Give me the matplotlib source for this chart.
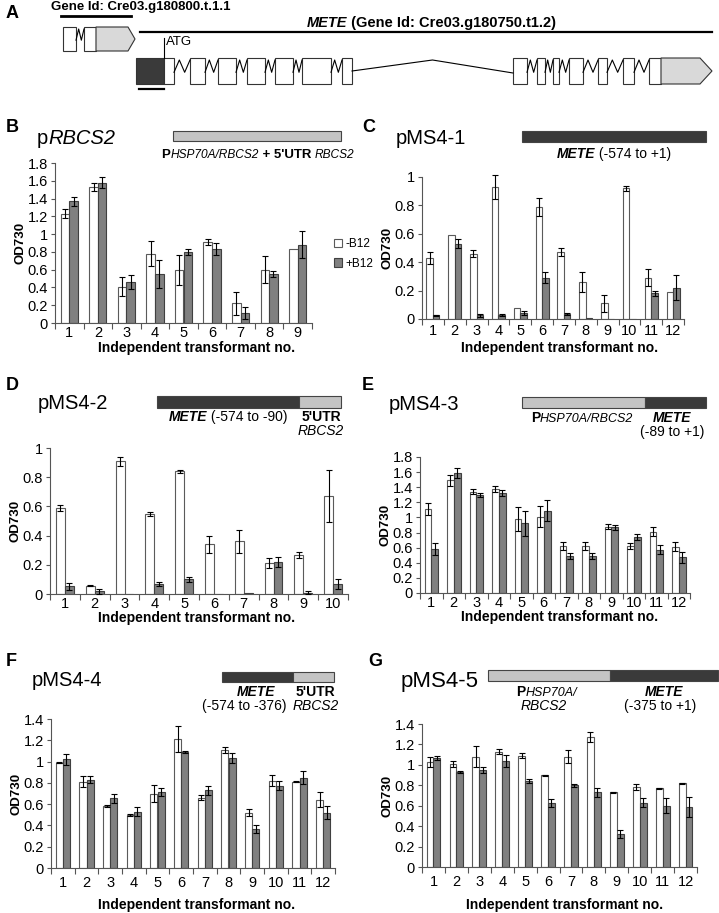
import numpy as np
import matplotlib.pyplot as plt
from matplotlib.patches import Rectangle, Polygon
from matplotlib.offsetbox import TextArea, HPacker, AnnotationBbox

plt.rcParams['font.family'] = ['Liberation Sans', 'DejaVu Sans']

W, H = 719, 913

# ---------------- panel A: gene models (positions along the map) ----------------
small_exons = [(63, 76), (84, 96)]
small_utr = (96, 128)
small_tip = 135
mete_region = (136, 164)          # dark box = promoter fragment
mete_exons = [(164, 174), (190, 205), (218, 236), (247, 265), (275, 293),
              (302, 331), (342, 352), (513, 527), (537, 545), (553, 559),
              (569, 583), (598, 607), (623, 634), (649, 661)]
mete_utr = (661, 700)
mete_tip = 712

# ---------------- bar data: (-B12 white, +B12 grey) ----------------
b_minus = [1.23, 1.53, 0.41, 0.78, 0.60, 0.91, 0.22, 0.60, 0.83]
b_minus_err = [0.05, 0.05, 0.11, 0.14, 0.17, 0.03, 0.13, 0.15, 0.0]
b_plus = [1.37, 1.58, 0.46, 0.55, 0.80, 0.83, 0.11, 0.55, 0.88]
b_plus_err = [0.05, 0.06, 0.08, 0.16, 0.03, 0.07, 0.07, 0.03, 0.15]

c_minus = [0.43, 0.59, 0.46, 0.93, 0.08, 0.79, 0.47, 0.26, 0.11, 0.92, 0.29, 0.19]
c_minus_err = [0.045, 0.0, 0.025, 0.085, 0.0, 0.065, 0.027, 0.072, 0.06, 0.02, 0.06, 0.0]
c_plus = [0.025, 0.53, 0.025, 0.03, 0.04, 0.29, 0.035, 0.004, 0.003, 0.003, 0.18, 0.22]
c_plus_err = [0.005, 0.032, 0.012, 0.008, 0.015, 0.04, 0.008, 0.0, 0.0, 0.0, 0.02, 0.087]

d_minus = [0.59, 0.057, 0.91, 0.55, 0.84, 0.34, 0.36, 0.21, 0.265, 0.67]
d_minus_err = [0.02, 0.005, 0.03, 0.015, 0.01, 0.06, 0.08, 0.035, 0.02, 0.18]
d_plus = [0.053, 0.018, 0.003, 0.07, 0.10, 0.0, 0.008, 0.217, 0.01, 0.068]
d_plus_err = [0.025, 0.015, 0.0, 0.012, 0.015, 0.0, 0.0, 0.035, 0.01, 0.035]

e_minus = [1.11, 1.49, 1.34, 1.38, 0.98, 1.01, 0.62, 0.62, 0.88, 0.62, 0.81, 0.61]
e_minus_err = [0.08, 0.07, 0.03, 0.04, 0.16, 0.14, 0.05, 0.05, 0.035, 0.04, 0.06, 0.06]
e_plus = [0.58, 1.59, 1.30, 1.32, 0.92, 1.09, 0.49, 0.49, 0.87, 0.74, 0.57, 0.47]
e_plus_err = [0.08, 0.07, 0.03, 0.04, 0.16, 0.14, 0.045, 0.045, 0.03, 0.045, 0.06, 0.07]

f_minus = [0.99, 0.81, 0.58, 0.50, 0.70, 1.21, 0.66, 1.11, 0.52, 0.82, 0.81, 0.64]
f_minus_err = [0.005, 0.05, 0.01, 0.01, 0.08, 0.12, 0.025, 0.025, 0.03, 0.05, 0.005, 0.07]
f_plus = [1.02, 0.83, 0.655, 0.53, 0.715, 1.09, 0.73, 1.035, 0.365, 0.775, 0.85, 0.52]
f_plus_err = [0.05, 0.03, 0.04, 0.04, 0.04, 0.01, 0.04, 0.05, 0.04, 0.04, 0.06, 0.06]

g_minus = [1.03, 1.01, 1.08, 1.13, 1.09, 0.90, 1.08, 1.27, 0.73, 0.78, 0.77, 0.82]
g_minus_err = [0.05, 0.03, 0.10, 0.025, 0.025, 0.005, 0.065, 0.05, 0.005, 0.03, 0.005, 0.005]
g_plus = [1.07, 0.93, 0.95, 1.04, 0.845, 0.63, 0.80, 0.73, 0.32, 0.63, 0.60, 0.59]
g_plus_err = [0.02, 0.005, 0.03, 0.06, 0.02, 0.04, 0.015, 0.04, 0.04, 0.045, 0.075, 0.10]

DARK = '#3a3a3a'
LIGHT = '#c4c4c4'
GREY_BAR = '#808080'
XLABEL = 'Independent transformant no.'

fig = plt.figure(figsize=(W / 100, H / 100), dpi=100)


def axes_px(x0, x1, ytop, ybot):
    return fig.add_axes([x0 / W, 1 - ybot / H, (x1 - x0) / W, (ybot - ytop) / H])


def text_px(x, y, s, **kw):
    fig.text(x / W, 1 - y / H, s, **kw)


def rich(x, y, parts, size=10, ha='center'):
    # mixed bold / italic label built from pieces
    kids = []
    for s, style in parts:
        props = dict(size=size, color='black')
        if 'b' in style:
            props['weight'] = 'bold'
        if 'i' in style:
            props['style'] = 'italic'
        if 's' in style:
            props['size'] = size * 0.9
        kids.append(TextArea(s, textprops=props))
    box = HPacker(children=kids, align='baseline', pad=0, sep=0)
    al = {'left': 0, 'center': 0.5, 'right': 1}[ha]
    ab = AnnotationBbox(box, (x / W, 1 - y / H), xycoords='figure fraction',
                        frameon=False, box_alignment=(al, 0.5), pad=0)
    fig.add_artist(ab)


def construct_bar(x0, x1, y0, y1, split=None, left=DARK, right=LIGHT):
    ax = axes_px(0, W, 0, H)
    ax.set_xlim(0, W)
    ax.set_ylim(H, 0)
    ax.axis('off')
    ax.patch.set_alpha(0)
    if split is None:
        ax.add_patch(Rectangle((x0, y0), x1 - x0, y1 - y0, fc=left, ec='#444444', lw=0.8))
    else:
        ax.add_patch(Rectangle((x0, y0), split - x0, y1 - y0, fc=left, ec='#444444', lw=0.8))
        ax.add_patch(Rectangle((split, y0), x1 - split, y1 - y0, fc=right, ec='#444444', lw=0.8))


def bar_panel(rect, minus, minus_err, plus, plus_err, ymax, xlab_pos, xpad):
    ax = axes_px(*rect)
    n = len(minus)
    x = np.arange(1, n + 1)
    w = 0.3
    ax.bar(x - w / 2, minus, w, color='white', edgecolor='#5a5a5a', linewidth=0.8, zorder=2)
    ax.bar(x + w / 2, plus, w, color=GREY_BAR, edgecolor='#404040', linewidth=0.8, zorder=2)
    for xs, vals, errs in ((x - w / 2, minus, minus_err), (x + w / 2, plus, plus_err)):
        vals = np.array(vals)
        errs = np.array(errs)
        m = errs > 0
        eb = ax.errorbar(xs[m], vals[m], yerr=errs[m], fmt='none', ecolor='black',
                         elinewidth=0.8, capsize=2.2, capthick=0.8, zorder=3)
        for art in list(eb.lines[1]) + list(eb.lines[2]):
            art.set_clip_on(False)
    ax.set_xlim(0.5, n + 0.5)
    ax.set_ylim(0, ymax)
    ax.set_xticks(x)
    ax.set_xticklabels([str(i) for i in x], fontsize=10.5)
    ax.set_xticks(np.arange(0.5, n + 1), minor=True)
    ax.tick_params(axis='x', which='major', length=0, pad=xpad)
    ax.tick_params(axis='x', which='minor', length=4, direction='out', color='#555555', width=0.8)
    yt = np.arange(0, ymax + 0.01, 0.2)
    ax.set_yticks(yt)
    ax.set_yticklabels([f"{round(t, 1):g}" for t in yt], fontsize=10.5)
    ax.tick_params(axis='y', length=3, direction='out', pad=2, color='#555555', width=0.8)
    for s in ('top', 'right'):
        ax.spines[s].set_visible(False)
    for s in ('left', 'bottom'):
        ax.spines[s].set_color('#555555')
        ax.spines[s].set_linewidth(0.8)
    ax.set_ylabel('OD730', fontsize=9.5, fontweight='bold', labelpad=1)
    text_px(xlab_pos[0], xlab_pos[1], XLABEL, fontsize=10, fontweight='bold',
            ha='center', va='center')
    return ax


# ---------------- panel A ----------------
axA = axes_px(0, W, 0, 125)
axA.set_xlim(0, W)
axA.set_ylim(125, 0)
axA.axis('off')


def intron(ax, x0, x1, ytop, ybot):
    w = x1 - x0
    ym = ytop + (ybot - ytop) * 0.55
    ax.plot([x0, x0 + w / 3, x0 + 2 * w / 3, x1], [ym, ytop + 2, ym, ytop + 2],
            color='black', lw=0.8)


def gene(ax, exons, utr, tip, ytop, ybot, dark=None):
    boxes = ([dark] if dark else []) + exons
    for i, (a, b) in enumerate(boxes):
        fc = DARK if (dark and i == 0) else 'white'
        ax.add_patch(Rectangle((a, ytop), b - a, ybot - ytop, fc=fc, ec='#333333', lw=0.8))
    for (a0, b0), (a1, b1) in zip(boxes[:-1], boxes[1:]):
        if a1 - b0 > 60:
            ax.plot([b0, (b0 + a1) / 2, a1], [ytop + 13, ytop + 2, ytop + 15], color='black', lw=0.8)
        elif a1 > b0:
            intron(ax, b0, a1, ytop, ybot)
    ax.add_patch(Polygon([(utr[0], ytop), (utr[1], ytop), (tip, (ytop + ybot) / 2),
                          (utr[1], ybot), (utr[0], ybot)], closed=True,
                         fc='#d9d9d9', ec='#333333', lw=0.8))


gene(axA, small_exons, small_utr, small_tip, 27, 51)
gene(axA, mete_exons, mete_utr, mete_tip, 58, 84, dark=mete_region)
axA.plot([61, 131], [16, 16], color='black', lw=2)
axA.plot([140, 712], [32, 32], color='black', lw=1.6)
axA.plot([164, 164], [38, 58], color='black', lw=0.8)
axA.plot([139, 164], [89, 89], color='black', lw=1.6)
axA.text(166, 42, 'ATG', fontsize=9.5, va='center', ha='left')

text_px(6, 14, 'A', fontsize=13, fontweight='bold', va='center')
text_px(141, 7, 'Gene Id: Cre03.g180800.t.1.1', fontsize=9.5, fontweight='bold',
        va='center', ha='center')
rich(431, 23, [('METE', 'bi'), (' (Gene Id: Cre03.g180750.t1.2)', 'b')], size=10.5)

# ---------------- panel B ----------------
text_px(6, 128, 'B', fontsize=13, fontweight='bold', va='center')
rich(37, 138, [('p', ''), ('RBCS2', 'i')], size=14.5, ha='left')
construct_bar(173, 341, 131, 141, left=LIGHT)
rich(258, 155, [('P', 'b'), ('HSP70A/RBCS2', 'is'), (" + 5'UTR ", 'b'), ('RBCS2', 'is')], size=9.5)
axB = bar_panel((55, 312, 163, 323), b_minus, b_minus_err, b_plus, b_plus_err, 1.8,
                (197, 348), 2)
leg_handles = [Rectangle((0, 0), 1, 1, fc='white', ec='#5a5a5a', lw=0.8),
               Rectangle((0, 0), 1, 1, fc=GREY_BAR, ec='#404040', lw=0.8)]
fig.legend(leg_handles, ['-B12', '+B12'], loc='center left',
           bbox_to_anchor=(334 / W, 1 - 254 / H), frameon=False, fontsize=8.5,
           handlelength=0.7, handleheight=0.7, handletextpad=0.3, labelspacing=0.6,
           borderaxespad=0, borderpad=0)

# ---------------- panel C ----------------
text_px(362, 128, 'C', fontsize=13, fontweight='bold', va='center')
text_px(396, 138, 'pMS4-1', fontsize=14.5, va='center', ha='left')
construct_bar(522, 706, 131, 142, left=DARK)
rich(614, 154, [('METE', 'bi'), (' (-574 to +1)', '')], size=10)
axC = bar_panel((422, 684, 177, 319), c_minus, c_minus_err, c_plus, c_plus_err, 1.0,
                (560, 348), 3.5)

# ---------------- panel D ----------------
text_px(6, 386, 'D', fontsize=13, fontweight='bold', va='center')
text_px(38, 403, 'pMS4-2', fontsize=14.5, va='center', ha='left')
construct_bar(157, 341, 396, 408, split=299, left=DARK, right=LIGHT)
rich(228, 417, [('METE', 'bi'), (' (-574 to -90)', '')], size=10)
rich(321, 417, [("5'UTR", 'b')], size=10)
rich(321, 431, [('RBCS2', 'i')], size=10)
axD = bar_panel((50, 348, 448, 594), d_minus, d_minus_err, d_plus, d_plus_err, 1.0,
                (197, 618), 2)

# ---------------- panel E ----------------
text_px(362, 386, 'E', fontsize=13, fontweight='bold', va='center')
text_px(389, 404, 'pMS4-3', fontsize=14.5, va='center', ha='left')
construct_bar(522, 706, 397, 408, split=645, left=LIGHT, right=DARK)
rich(582, 418, [('P', 'b'), ('HSP70A/RBCS2', 'is')], size=10)
rich(672, 418, [('METE', 'bi')], size=10)
rich(672, 432, [('(-89 to +1)', '')], size=10)
axE = bar_panel((420, 690, 457, 593), e_minus, e_minus_err, e_plus, e_plus_err, 1.8,
                (560, 617), 2)

# ---------------- panel F ----------------
text_px(6, 662, 'F', fontsize=13, fontweight='bold', va='center')
text_px(32, 680, 'pMS4-4', fontsize=14.5, va='center', ha='left')
construct_bar(222, 334, 672, 682, split=293, left=DARK, right=LIGHT)
rich(256, 692, [('METE', 'bi')], size=10)
rich(244, 706, [('(-574 to -376)', '')], size=10)
rich(315, 692, [("5'UTR", 'b')], size=10)
rich(316, 706, [('RBCS2', 'i')], size=10)
axF = bar_panel((51, 335, 719, 868), f_minus, f_minus_err, f_plus, f_plus_err, 1.4,
                (197, 905), 6)

# ---------------- panel G ----------------
text_px(368, 662, 'G', fontsize=13, fontweight='bold', va='center')
text_px(401, 681, 'pMS4-5', fontsize=16, va='center', ha='left')
construct_bar(488, 718, 670, 681, split=610, left=LIGHT, right=DARK)
rich(547, 692, [('P', 'b'), ('HSP70A/', 'is')], size=10)
rich(544, 706, [('RBCS2', 'i')], size=10)
rich(664, 692, [('METE', 'bi')], size=10)
rich(660, 706, [('(-375 to +1)', '')], size=10)
axG = bar_panel((422, 697, 724, 867), g_minus, g_minus_err, g_plus, g_plus_err, 1.4,
                (565, 905), 6)

fig.savefig('out.png', dpi=100)
